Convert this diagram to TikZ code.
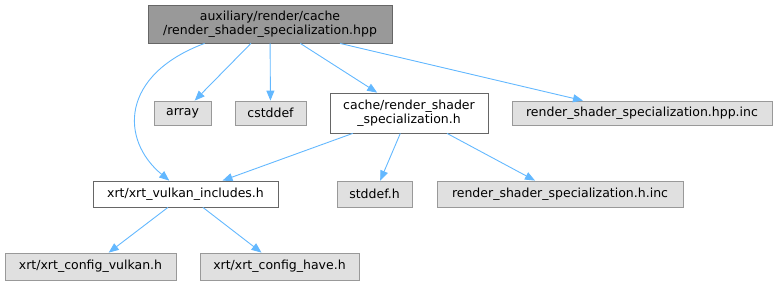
\documentclass[tikz,border=0pt]{standalone}
\usepackage{fontspec}
\setmainfont{DejaVu Sans}
\usepackage{tikz}
\usetikzlibrary{arrows.meta,calc}
\usetikzlibrary{positioning}

\definecolor{edgeblue}{HTML}{63B8FF}
\definecolor{curfill}{HTML}{999999}
\definecolor{curdraw}{HTML}{666666}
\definecolor{extfill}{HTML}{E0E0E0}
\definecolor{extdraw}{HTML}{999999}

\begin{document}
\begin{tikzpicture}[x=1pt,y=-1pt,>={Triangle[length=10pt,width=8pt]},font=\fontsize{12.5}{14}\selectfont,
  box/.style={draw,rectangle,inner sep=0pt,align=center,line width=0.8pt},
  current/.style={box,fill=curfill,draw=curdraw},
  local/.style={box,fill=white,draw=curdraw},
  ext/.style={box,fill=extfill,draw=extdraw},
  edge/.style={->,draw=edgeblue,line width=0.9pt}]
\useasboundingbox (0,0) rectangle (781,285);
% file itself
\node[current,minimum width=244pt,minimum height=38pt] (hpp) at (270,24) {auxiliary/render/cache\\/render\_shader\_specialization.hpp};
% first row
\node[ext,minimum width=57pt,minimum height=24pt] (array) at (182.5,113) {array};
\node[ext,minimum width=71pt,minimum height=24pt] (cstddef) at (270.5,113) {cstddef};
\node[local,minimum width=158pt,minimum height=40pt] (cacheh) at (409,113) {cache/render\_shader\\\_specialization.h};
\node[ext,minimum width=260pt,minimum height=24pt] (hppinc) at (642,113) {render\_shader\_specialization.hpp.inc};
% second row
\node[local,minimum width=185pt,minimum height=26pt] (vkinc) at (185.5,194) {xrt/xrt\_vulkan\_includes.h};
\node[ext,minimum width=75pt,minimum height=26pt] (stddef) at (374.5,194) {stddef.h};
\node[ext,minimum width=246pt,minimum height=26pt] (hinc) at (560,194) {render\_shader\_specialization.h.inc};
% third row
\node[ext,minimum width=171pt,minimum height=27pt] (cfgvk) at (90.5,266.5) {xrt/xrt\_config\_vulkan.h};
\node[ext,minimum width=159pt,minimum height=27pt] (cfghave) at (279.5,266.5) {xrt/xrt\_config\_have.h};
% includes
\draw[edge] ([xshift=57pt]hpp.south west) .. controls (120,75) and (120,140) .. (vkinc);
\draw[edge] (hpp) -- (array);
\draw[edge] (hpp) -- (cstddef);
\draw[edge] (hpp) -- (cacheh);
\draw[edge] ([xshift=70pt]hpp.south) -- ([xshift=-59pt]hppinc.north);
\draw[edge] (cacheh) -- (vkinc);
\draw[edge] (cacheh) -- (stddef);
\draw[edge] (cacheh) -- (hinc);
\draw[edge] (vkinc) -- (cfgvk);
\draw[edge] (vkinc) -- (cfghave);
\end{tikzpicture}
\end{document}
